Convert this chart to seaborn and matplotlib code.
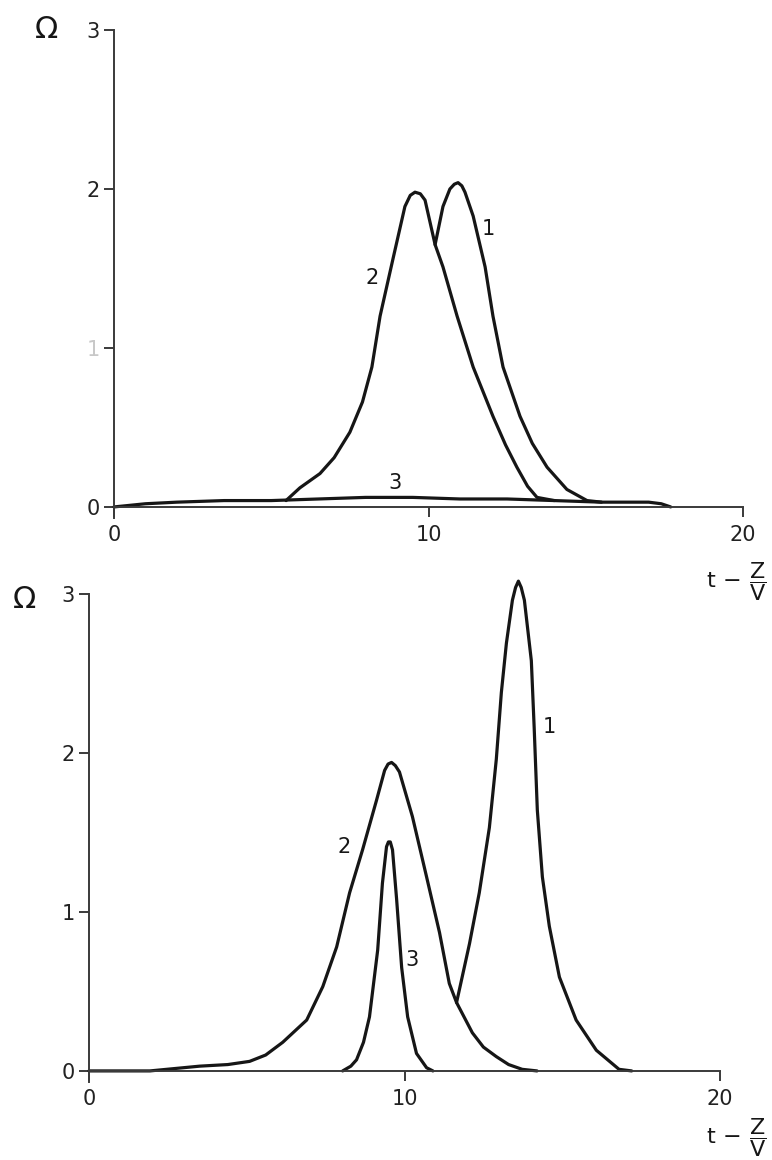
import numpy as np
import pandas as pd
import matplotlib
matplotlib.use("Agg")
import matplotlib.pyplot as plt
import seaborn as sns

# --- upper panel: values ---
top_x1 = [10.21, 10.46, 10.68, 10.82, 10.94, 11.06, 11.16, 11.42, 11.80, 12.05, 12.37, 12.91,
          13.30, 13.77, 14.40, 15.04, 15.5]
top_y1 = [1.65, 1.89, 2.00, 2.03, 2.04, 2.02, 1.98, 1.83, 1.51, 1.20, 0.88, 0.57,
          0.40, 0.25, 0.11, 0.04, 0.03]

top_x2 = [5.47, 5.91, 6.55, 7.00, 7.50, 7.90, 8.20, 8.46, 8.87, 9.25, 9.42, 9.57, 9.74, 9.89,
          10.21, 10.46, 10.91, 11.42, 12.05, 12.45, 12.81, 13.15, 13.45, 14.0]
top_y2 = [0.04, 0.12, 0.21, 0.31, 0.47, 0.66, 0.88, 1.20, 1.56, 1.89, 1.96, 1.98, 1.97, 1.93,
          1.65, 1.51, 1.20, 0.88, 0.57, 0.39, 0.25, 0.13, 0.06, 0.04]

top_x3 = [0, 1, 2, 3.5, 5, 6.5, 8, 9.5, 11, 12.5, 14, 15.5, 17, 17.4, 17.7]
top_y3 = [0.0, 0.02, 0.03, 0.04, 0.04, 0.05, 0.06, 0.06, 0.05, 0.05, 0.04, 0.03, 0.03, 0.02, 0.0]

# --- lower panel ---
bot_x1 = [11.65, 12.06, 12.37, 12.69, 12.91, 13.07, 13.23, 13.42, 13.52, 13.61, 13.70, 13.80,
          14.02, 14.11, 14.21, 14.37, 14.59, 14.91, 15.44, 16.08, 16.80, 17.2]
bot_y1 = [0.43, 0.80, 1.12, 1.53, 1.96, 2.38, 2.69, 2.96, 3.04, 3.08, 3.04, 2.96,
          2.58, 2.16, 1.64, 1.22, 0.91, 0.59, 0.32, 0.13, 0.01, 0.0]

bot_x2 = [0.0, 1.93, 3.51, 4.40, 5.09, 5.60, 6.14, 6.90, 7.41, 7.85, 8.26, 8.67, 9.11, 9.37,
          9.48, 9.59, 9.71, 9.84, 10.25, 10.70, 11.11, 11.42, 11.65, 12.15, 12.50, 12.91,
          13.30, 13.73, 14.2]
bot_y2 = [0.0, 0.0, 0.03, 0.04, 0.06, 0.10, 0.18, 0.32, 0.53, 0.78, 1.12, 1.39, 1.70, 1.89,
          1.93, 1.94, 1.92, 1.88, 1.60, 1.22, 0.87, 0.55, 0.43, 0.24, 0.15, 0.09,
          0.04, 0.01, 0.0]

bot_x3 = [8.04, 8.30, 8.48, 8.70, 8.89, 9.15, 9.30, 9.43, 9.49, 9.55, 9.62, 9.75, 9.91, 10.10,
          10.38, 10.70, 10.9]
bot_y3 = [0.0, 0.03, 0.07, 0.18, 0.34, 0.76, 1.18, 1.41, 1.44, 1.44, 1.39, 1.08, 0.65, 0.34,
          0.11, 0.02, 0.0]

x_ticks = [0, 10, 20]
y_ticks = [0, 1, 2, 3]

ink = "#161616"
axis_ink = "#3a3a3a"

sns.set_style("white")
plt.rcParams['font.family'] = ['DejaVu Sans']

fig = plt.figure(figsize=(7.72, 11.6), dpi=100)
ax_top = fig.add_axes([114 / 772, 0.5534, 629 / 772, 0.4207])
ax_bot = fig.add_axes([89 / 772, 0.0672, 631 / 772, 0.4414])


def draw_curves(ax, curves):
    for xs, ys in curves:
        df = pd.DataFrame({"x": xs, "y": ys})
        sns.lineplot(data=df, x="x", y="y", ax=ax, color=ink, linewidth=2.3,
                     estimator=None, sort=False, clip_on=False)


def style_axes(ax, ytop, faint_one=False):
    ax.set_xlim(0, 20)
    ax.set_ylim(-0.07, ytop)
    ax.spines['top'].set_visible(False)
    ax.spines['right'].set_visible(False)
    ax.spines['bottom'].set_position(('data', 0))
    ax.spines['left'].set_bounds(-0.07, 3)
    for s in ('left', 'bottom'):
        ax.spines[s].set_color(axis_ink)
        ax.spines[s].set_linewidth(1.4)
    ax.set_xticks(x_ticks)
    ax.set_xticklabels([str(v) for v in x_ticks])
    ax.set_yticks(y_ticks)
    ax.set_yticklabels([str(v) for v in y_ticks])
    ax.tick_params(axis='both', direction='out', length=7, width=1.4, left=True, bottom=True,
                   color=axis_ink, labelsize=15, labelcolor="#222222", pad=3)
    ax.tick_params(axis='x', pad=6)
    if faint_one:
        ax.get_yticklabels()[1].set_color("#c8c8c8")
    ax.set_xlabel("")
    ax.set_ylabel("")
    ax.grid(False)


draw_curves(ax_top, [(top_x1, top_y1), (top_x2, top_y2), (top_x3, top_y3)])
style_axes(ax_top, 3.0, faint_one=True)
ax_top.text(11.89, 1.75, "1", fontsize=15, color=ink, ha='center', va='center')
ax_top.text(8.2, 1.44, "2", fontsize=15, color=ink, ha='center', va='center')
ax_top.text(8.93, 0.15, "3", fontsize=15, color=ink, ha='center', va='center')

draw_curves(ax_bot, [(bot_x1, bot_y1), (bot_x2, bot_y2), (bot_x3, bot_y3)])
style_axes(ax_bot, 3.15)
ax_bot.text(14.59, 2.16, "1", fontsize=15, color=ink, ha='center', va='center')
ax_bot.text(8.10, 1.41, "2", fontsize=15, color=ink, ha='center', va='center')
ax_bot.text(10.25, 0.70, "3", fontsize=15, color=ink, ha='center', va='center')

# axis titles
fig.text(47 / 772, 1 - 30 / 1160, "Ω", fontsize=22, ha='center', va='center', color=ink)
fig.text(25 / 772, 1 - 600 / 1160, "Ω", fontsize=22, ha='center', va='center', color=ink)
zv = r"$\mathrm{t}\,-\,\dfrac{\mathrm{Z}}{\mathrm{V}}$"
fig.text(736 / 772, 1 - 582 / 1160, zv, fontsize=16, ha='center', va='center', color=ink)
fig.text(736 / 772, 1 - 1138 / 1160, zv, fontsize=16, ha='center', va='center', color=ink)

fig.savefig("out.png", dpi=100, facecolor="white")
